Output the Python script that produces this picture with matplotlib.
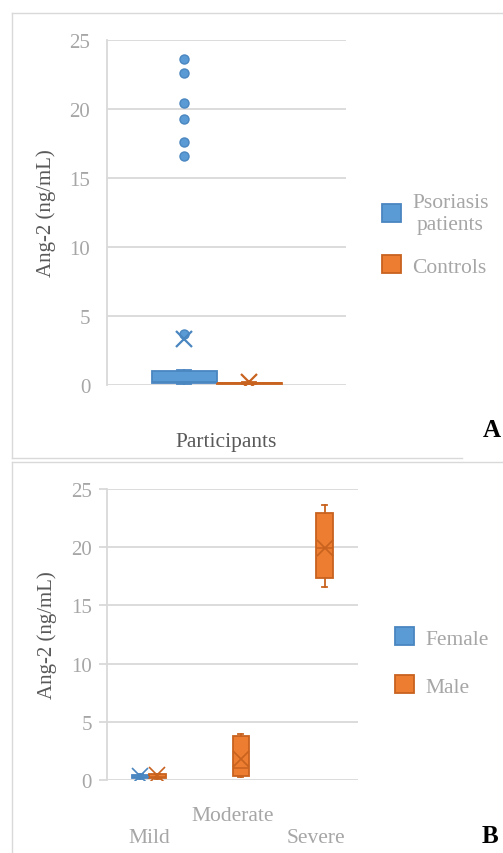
import matplotlib.pyplot as plt
from matplotlib.patches import Patch
from matplotlib.lines import Line2D

plt.rcParams['font.family'] = ['Liberation Serif', 'DejaVu Serif']

# --- panel A: participants ---
groups_a = ["Psoriasis\npatients", "Controls"]
whislo_a = [0.05, 0.08]
q1_a = [0.15, 0.10]
med_a = [0.2, 0.15]
q3_a = [1.0, 0.18]
whishi_a = [1.1, 0.20]
mean_a = [3.3, 0.2]
fliers_a = [[3.7, 16.6, 17.6, 19.3, 20.4, 22.6, 23.6], []]

# --- panel B: severity by sex ---
severity = ["Mild", "Moderate", "Severe"]
sex = ["Female", "Male"]
# one entry per box: category index, sex index, stats
cat_b = [0, 0, 1, 2]
sex_b = [0, 1, 1, 1]
whislo_b = [0.05, 0.10, 0.25, 16.6]
q1_b = [0.20, 0.20, 0.35, 17.35]
med_b = [0.30, 0.30, 1.0, 19.9]
q3_b = [0.45, 0.50, 3.8, 22.9]
whishi_b = [0.50, 0.55, 3.95, 23.6]
mean_b = [0.35, 0.40, 1.8, 19.9]

fills = ["#5b9bd5", "#ed7d31"]
edges = ["#4a86c0", "#c8621f"]
tick_grey = "#a6a6a6"
label_grey = "#595959"
grid_grey = "#d9d9d9"

fig = plt.figure(figsize=(5.03, 8.54), dpi=100)

# panel frames
fig.add_artist(Line2D([12/503, 12/503], [1-14/854, 1-459/854], color=grid_grey, lw=1))
fig.add_artist(Line2D([12/503, 1], [1-14/854, 1-14/854], color=grid_grey, lw=1))
fig.add_artist(Line2D([12/503, 462/503], [1-459/854, 1-459/854], color=grid_grey, lw=1))
fig.add_artist(Line2D([12/503, 12/503], [1-463/854, 0], color=grid_grey, lw=1))
fig.add_artist(Line2D([12/503, 1], [1-463/854, 1-463/854], color=grid_grey, lw=1))


def style_axis(ax, ticks_out):
    ax.set_ylim(0, 25)
    ax.set_yticks([0, 5, 10, 15, 20, 25])
    ax.grid(axis='y', color=grid_grey, lw=1.3)
    ax.set_axisbelow(True)
    for s in ['top', 'right', 'bottom']:
        ax.spines[s].set_visible(False)
    ax.spines['left'].set_color(grid_grey)
    ax.spines['left'].set_linewidth(1.3)
    if ticks_out:
        ax.tick_params(axis='y', length=6, width=1.3, color=grid_grey, pad=5)
    else:
        ax.tick_params(axis='y', length=0, pad=12)
    ax.tick_params(axis='y', labelsize=15, labelcolor=tick_grey)
    ax.tick_params(axis='x', length=0)
    ax.set_ylabel("Ang-2 (ng/mL)", fontsize=15, color=label_grey, labelpad=10)


# ---------- A ----------
axa = fig.add_axes([107/503, 1-386/854, 239/503, 345/854])
style_axis(axa, False)
axa.set_xlim(0, 1)
pos_a = [0.323, 0.595]
for i in range(2):
    st = dict(whislo=whislo_a[i], q1=q1_a[i], med=med_a[i], q3=q3_a[i],
              whishi=whishi_a[i], mean=mean_a[i], fliers=fliers_a[i])
    axa.bxp([st], positions=[pos_a[i]], widths=0.272, patch_artist=True,
            showmeans=True, manage_ticks=False,
            boxprops=dict(facecolor=fills[i], edgecolor=edges[i], lw=1.3),
            medianprops=dict(color=edges[i], lw=1.3),
            whiskerprops=dict(color=edges[i], lw=1.3),
            capprops=dict(color=edges[i], lw=1.3),
            capwidths=0.06,
            meanprops=dict(marker='x', markeredgecolor=edges[i], markersize=12, markeredgewidth=1.6),
            flierprops=dict(marker='o', markerfacecolor=fills[i], markeredgecolor=edges[i],
                            markersize=6.5, markeredgewidth=1))
axa.set_xticks([0.5])
axa.set_xticklabels(["Participants"], fontsize=15.5, color=label_grey)
axa.tick_params(axis='x', pad=34)
handles_a = [Patch(facecolor=fills[i], edgecolor=edges[i], lw=1.3) for i in range(2)]
lega = fig.legend(handles_a, groups_a, loc='center left', bbox_to_anchor=(382/503, 1-236/854),
                  frameon=False, fontsize=15.5, labelcolor=tick_grey, handlelength=0.9,
                  handleheight=0.9, handletextpad=0.5, labelspacing=1.0,
                  borderpad=0, borderaxespad=0)
for t in lega.get_texts():
    t.set_multialignment('center')
fig.text(483/503, 1-437/854, "A", fontsize=18, fontweight='bold', ha='left', va='baseline')

# ---------- B ----------
axb = fig.add_axes([107/503, 1-781/854, 251/503, 291/854])
style_axis(axb, True)
axb.set_xlim(0, 3)
for k in range(len(cat_b)):
    s = sex_b[k]
    x = cat_b[k] + 0.5 + (0.1 if s == 1 else -0.1)
    st = dict(whislo=whislo_b[k], q1=q1_b[k], med=med_b[k], q3=q3_b[k],
              whishi=whishi_b[k], mean=mean_b[k], fliers=[])
    axb.bxp([st], positions=[x], widths=0.2, patch_artist=True,
            showmeans=True, manage_ticks=False,
            boxprops=dict(facecolor=fills[s], edgecolor=edges[s], lw=1.3),
            medianprops=dict(color=edges[s], lw=1.1),
            whiskerprops=dict(color=edges[s], lw=1.3),
            capprops=dict(color=edges[s], lw=1.3),
            capwidths=0.06,
            meanprops=dict(marker='x', markeredgecolor=edges[s], markersize=12, markeredgewidth=1.2))
axb.set_xticks([0.5, 1.5, 2.5])
axb.set_xticklabels(["\n" + severity[0], severity[1], "\n" + severity[2]],
                    fontsize=15.5, color=tick_grey, va='top', linespacing=1.2)
axb.tick_params(axis='x', pad=19)
handles_b = [Patch(facecolor=fills[i], edgecolor=edges[i], lw=1.3) for i in range(2)]
fig.legend(handles_b, sex, loc='center left', bbox_to_anchor=(395/503, 1-663/854),
           frameon=False, fontsize=15.5, labelcolor=tick_grey, handlelength=0.9,
           handleheight=0.9, handletextpad=0.5, labelspacing=1.25,
           borderpad=0, borderaxespad=0)
fig.text(482/503, 1-843/854, "B", fontsize=18, fontweight='bold', ha='left', va='baseline')

fig.savefig("out.png", dpi=100)
